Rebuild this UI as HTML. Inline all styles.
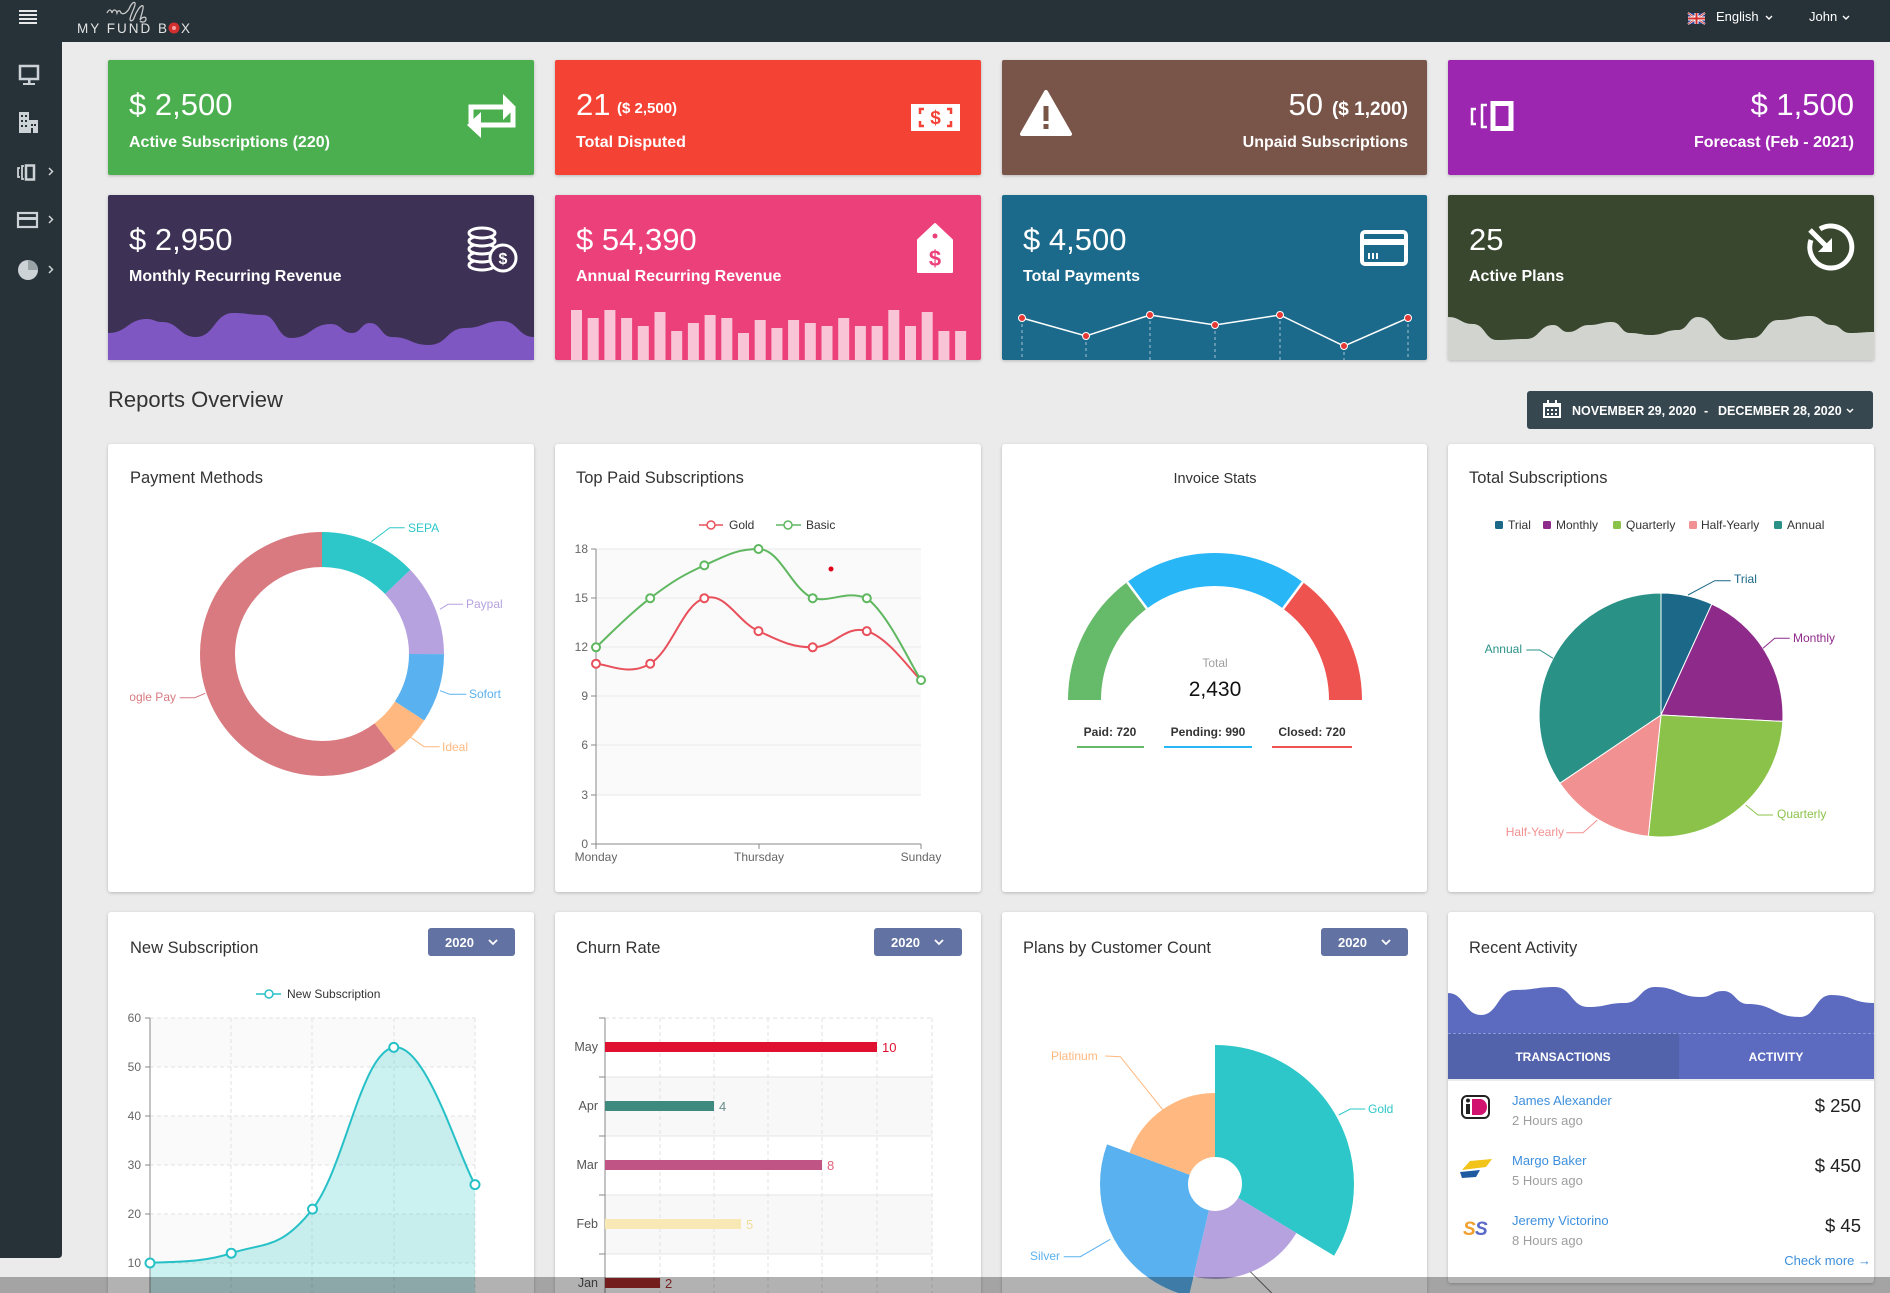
<!DOCTYPE html>
<html><head><meta charset="utf-8">
<style>
html,body{margin:0;padding:0;width:1890px;height:1293px;overflow:hidden;background:#ebebeb}
svg{display:block}
text{font-family:"Liberation Sans",Arial,sans-serif}
</style></head>
<body>
<svg width="1890" height="1293" viewBox="0 0 1890 1293" xmlns="http://www.w3.org/2000/svg">
<defs>
<filter id="sh" x="-3%" y="-3%" width="106%" height="110%"><feDropShadow dx="0" dy="1" stdDeviation="1.5" flood-color="#000" flood-opacity="0.22"/></filter>
<clipPath id="pmclip"><rect x="130" y="444" width="404" height="448"/></clipPath>
</defs>
<rect width="1890" height="1293" fill="#ebebeb"/>

<!-- TOP BAR -->
<rect x="0" y="0" width="1890" height="42" fill="#263238"/>
<g fill="#e8e8e8"><rect x="19" y="10" width="18" height="2"/><rect x="19" y="14" width="18" height="2"/><rect x="19" y="18" width="18" height="2"/><rect x="19" y="22" width="18" height="2"/></g>
<path d="M107,13 c2,-4 4,-4 5,0 c1,-4 4,-4 5,0 c1,-3 3,-3 4,0 c3,2 6,-1 8,-4 c2,-5 5,-8 6,-6 c1,3 -4,10 -5,16 c0,3 3,2 4,-1 c2,-6 7,-14 9,-12 c1,2 -2,10 -3,14 c2,-3 6,-4 6,-1 c0,3 -4,4 -6,2" fill="none" stroke="#c8c8c8" stroke-width="1.3"/>
<text x="77" y="33" font-size="13.5" fill="#e2e2e2" letter-spacing="2">MY FUND B</text>
<circle cx="174" cy="28" r="5.5" fill="#d32f2f"/><circle cx="174" cy="28" r="2" fill="#f5a0a0"/>
<text x="181" y="33" font-size="13.5" fill="#e2e2e2">X</text>
<!-- flag -->
<rect x="1688" y="13" width="17" height="11" fill="#2b3f8f"/>
<path d="M1688,13 L1705,24 M1705,13 L1688,24" stroke="#fff" stroke-width="2"/>
<path d="M1688,13 L1705,24 M1705,13 L1688,24" stroke="#d32f2f" stroke-width="0.8"/>
<rect x="1694.5" y="13" width="4" height="11" fill="#fff"/><rect x="1688" y="16.5" width="17" height="4" fill="#fff"/>
<rect x="1695.5" y="13" width="2" height="11" fill="#d32f2f"/><rect x="1688" y="17.5" width="17" height="2" fill="#d32f2f"/>
<text x="1716" y="21" font-size="13" fill="#fff">English</text>
<path d="M1766,16 l3,3 l3,-3" fill="none" stroke="#fff" stroke-width="1.4"/>
<text x="1809" y="21" font-size="13" fill="#fff">John</text>
<path d="M1843,16 l3,3 l3,-3" fill="none" stroke="#fff" stroke-width="1.4"/>

<!-- SIDEBAR -->
<path d="M0,42 H62 V1254 Q62,1258 58,1258 H0 Z" fill="#263238"/>
<g stroke="#cdd2d6" fill="none" stroke-width="2.5">
<rect x="20" y="66" width="18" height="13"/>
</g>
<g fill="#cdd2d6">
<rect x="28" y="79" width="2.5" height="4"/><rect x="23" y="83" width="12" height="2"/>
<rect x="19" y="112" width="10" height="21"/><rect x="29" y="120" width="9" height="13"/>
</g>
<g fill="#263238"><rect x="21" y="115" width="2" height="2"/><rect x="25" y="115" width="2" height="2"/><rect x="21" y="120" width="2" height="2"/><rect x="25" y="120" width="2" height="2"/><rect x="21" y="125" width="2" height="2"/><rect x="25" y="125" width="2" height="2"/><rect x="31" y="124" width="2" height="2"/><rect x="34" y="124" width="2" height="2"/><rect x="31" y="128" width="2" height="5"/></g>
<g stroke="#cdd2d6" fill="none" stroke-width="1.8">
<path d="M20,168 h-2 v9 h2"/><path d="M24,166 h-2 v13 h2"/>
<rect x="26" y="165.5" width="8" height="14" stroke-width="2.5"/>
<rect x="18" y="213" width="19" height="14" stroke-width="2.2"/>
<path d="M49,168 l3.5,3.5 l-3.5,3.5 M49,216 l3.5,3.5 l-3.5,3.5 M49,266 l3.5,3.5 l-3.5,3.5" stroke-width="1.5"/>
</g>
<rect x="18" y="217" width="19" height="3" fill="#cdd2d6"/>
<circle cx="28" cy="270" r="10" fill="#cdd2d6"/>
<path d="M28,270 L28,260 A10,10 0 0 1 38,270 Z" fill="#9aa3a8"/>

<!-- ROW 1 CARDS -->
<g filter="url(#sh)">
<rect x="108" y="60" width="426" height="115" rx="2" fill="#4caf50"/>
<rect x="555" y="60" width="426" height="115" rx="2" fill="#f44336"/>
<rect x="1002" y="60" width="425" height="115" rx="2" fill="#795548"/>
<rect x="1448" y="60" width="426" height="115" rx="2" fill="#9c27b0"/>
</g>
<g fill="#fff">
<text x="129" y="115" font-size="31">$ 2,500</text>
<text x="129" y="147" font-size="16" font-weight="bold">Active Subscriptions (220)</text>
<text x="576" y="115" font-size="31">21</text>
<text x="617" y="113" font-size="15" font-weight="bold">($ 2,500)</text>
<text x="576" y="147" font-size="16" font-weight="bold">Total Disputed</text>
<text x="1323" y="115" font-size="31" text-anchor="end">50</text>
<text x="1408" y="115" font-size="19" font-weight="bold" text-anchor="end">($ 1,200)</text>
<text x="1408" y="147" font-size="16" font-weight="bold" text-anchor="end">Unpaid Subscriptions</text>
<text x="1854" y="115" font-size="31" text-anchor="end">$ 1,500</text>
<text x="1854" y="147" font-size="16" font-weight="bold" text-anchor="end">Forecast (Feb - 2021)</text>
</g>
<!-- icons row1 -->
<g stroke="#fff" stroke-width="5" fill="none"><polyline points="471,123 471,107 505,107"/><polyline points="513,108 513,125 480,125"/></g>
<g fill="#fff"><polygon points="503,94 516,107 503,120"/><polygon points="481,112 467,125 481,138"/></g>
<rect x="911" y="104" width="49" height="27" fill="#fff"/>
<text x="935.5" y="124" font-size="19" font-weight="bold" fill="#f44336" text-anchor="middle">$</text>
<g stroke="#f44336" stroke-width="2.5" fill="none"><path d="M920,114 v-5 h4"/><path d="M951,114 v-5 h-4"/><path d="M920,121 v5 h4"/><path d="M951,121 v5 h-4"/></g>
<path d="M1046,92 L1070,134 L1022,134 Z" fill="#fff" stroke="#fff" stroke-width="4" stroke-linejoin="round"/>
<rect x="1043.5" y="106" width="5" height="15" fill="#795548"/><rect x="1043.5" y="124" width="5" height="5" fill="#795548"/>
<g stroke="#fff" fill="none"><path d="M1476,109 h-4 v15 h4" stroke-width="2.5"/><path d="M1487,105 h-5 v22 h5" stroke-width="2.5"/><rect x="1493" y="103.5" width="18" height="25" stroke-width="5"/></g>

<!-- ROW 2 CARDS -->
<g filter="url(#sh)">
<rect x="108" y="195" width="426" height="165" rx="2" fill="#3e3054"/>
<rect x="555" y="195" width="426" height="165" rx="2" fill="#ec407a"/>
<rect x="1002" y="195" width="425" height="165" rx="2" fill="#1d6a8b"/>
<rect x="1448" y="195" width="426" height="165" rx="2" fill="#37472f"/>
</g>
<path d="M108,333 C127.5,333 127.5,319 147,319 C154.5,319 154.5,322 162,322 C179,322 179,337 196,337 C214.5,337 214.5,313 233,313 C248,313 248,315 263,315 C277,315 277,338 291,338 C311,338 311,324 331,324 C341.5,324 341.5,333 352,333 C361,333 361,323 370,323 C381,323 381,337 392,337 C410.5,337 410.5,345 429,345 C447,345 447,328 465,328 C483.5,328 483.5,321 502,321 C518,321 518,337 534,337 L534,360 L108,360 Z" fill="#7e57c2"/>
<g fill="#f9c4d6">
<rect x="571" y="310" width="11" height="50"/><rect x="587.7" y="318" width="11" height="42"/><rect x="604.4" y="310" width="11" height="50"/><rect x="621.1" y="318" width="11" height="42"/><rect x="637.8" y="326" width="11" height="34"/><rect x="654.5" y="312" width="11" height="48"/><rect x="671.2" y="331" width="11" height="29"/><rect x="687.9" y="323" width="11" height="37"/><rect x="704.6" y="315" width="11" height="45"/><rect x="721.3" y="318" width="11" height="42"/><rect x="738" y="333" width="11" height="27"/><rect x="754.7" y="320" width="11" height="40"/><rect x="771.4" y="328" width="11" height="32"/><rect x="788.1" y="320" width="11" height="40"/><rect x="804.8" y="323" width="11" height="37"/><rect x="821.5" y="326" width="11" height="34"/><rect x="838.2" y="318" width="11" height="42"/><rect x="854.9" y="326" width="11" height="34"/><rect x="871.6" y="326" width="11" height="34"/><rect x="888.3" y="310" width="11" height="50"/><rect x="905" y="326" width="11" height="34"/><rect x="921.7" y="312" width="11" height="48"/><rect x="938.4" y="331" width="11" height="29"/><rect x="955.1" y="331" width="11" height="29"/>
</g>
<g stroke="#fff" stroke-opacity="0.6" stroke-width="1" stroke-dasharray="3,3">
<line x1="1022" y1="318" x2="1022" y2="360"/><line x1="1086" y1="336" x2="1086" y2="360"/><line x1="1150" y1="315" x2="1150" y2="360"/><line x1="1215" y1="325" x2="1215" y2="360"/><line x1="1280" y1="315" x2="1280" y2="360"/><line x1="1344" y1="346" x2="1344" y2="360"/><line x1="1408" y1="318" x2="1408" y2="360"/>
</g>
<polyline points="1022,318 1086,336 1150,315 1215,325 1280,315 1344,346 1408,318" fill="none" stroke="#fff" stroke-width="1.5"/>
<g fill="#e53935" stroke="#fff" stroke-width="1"><circle cx="1022" cy="318" r="3.5"/><circle cx="1086" cy="336" r="3.5"/><circle cx="1150" cy="315" r="3.5"/><circle cx="1215" cy="325" r="3.5"/><circle cx="1280" cy="315" r="3.5"/><circle cx="1344" cy="346" r="3.5"/><circle cx="1408" cy="318" r="3.5"/></g>
<path d="M1448,317 C1460.5,317 1460.5,324 1473,324 C1485,324 1485,340 1497,340 C1511.5,340 1511.5,339 1526,339 C1539.5,339 1539.5,325 1553,325 C1560.5,325 1560.5,332 1568,332 C1578.5,332 1578.5,325 1589,325 C1600.5,325 1600.5,322 1612,322 C1621,322 1621,333 1630,333 C1640.5,333 1640.5,335 1651,335 C1664.5,335 1664.5,330 1678,330 C1688,330 1688,317 1698,317 C1714.5,317 1714.5,340 1731,340 C1741.5,340 1741.5,338 1752,338 C1765,338 1765,320 1778,320 C1794.5,320 1794.5,316 1811,316 C1821.5,316 1821.5,325 1832,325 C1841,325 1841,333 1850,333 C1862,333 1862,332 1874,332 L1874,360 L1448,360 Z" fill="#d2d4d0"/>
<g fill="#fff">
<text x="129" y="250" font-size="31">$ 2,950</text>
<text x="129" y="281" font-size="16" font-weight="bold">Monthly Recurring Revenue</text>
<text x="576" y="250" font-size="31">$ 54,390</text>
<text x="576" y="281" font-size="16" font-weight="bold">Annual Recurring Revenue</text>
<text x="1023" y="250" font-size="31">$ 4,500</text>
<text x="1023" y="281" font-size="16" font-weight="bold">Total Payments</text>
<text x="1469" y="250" font-size="31">25</text>
<text x="1469" y="281" font-size="16" font-weight="bold">Active Plans</text>
</g>
<!-- icons row 2 -->
<g stroke="#fff" stroke-width="3" fill="#3e3054">
<ellipse cx="482" cy="265" rx="13" ry="5"/><ellipse cx="482" cy="257" rx="13" ry="5"/><ellipse cx="482" cy="249" rx="13" ry="5"/><ellipse cx="482" cy="241" rx="13" ry="5"/><ellipse cx="482" cy="233" rx="13" ry="5"/>
<circle cx="503" cy="258" r="13"/>
</g>
<text x="503" y="264" font-size="16" font-weight="bold" fill="#fff" text-anchor="middle">$</text>
<path d="M935,224 L952,240 L952,272 L918,272 L918,240 Z" fill="#fff" stroke="#fff" stroke-width="2" stroke-linejoin="round"/>
<circle cx="935" cy="236" r="2.5" fill="#ec407a"/>
<text x="935" y="266" font-size="22" font-weight="bold" fill="#ec407a" text-anchor="middle">$</text>
<rect x="1362" y="232" width="44" height="32" rx="3" fill="none" stroke="#fff" stroke-width="4"/>
<rect x="1362" y="239" width="44" height="6" fill="#fff"/>
<g fill="#fff"><rect x="1368" y="253" width="2" height="6"/><rect x="1372" y="253" width="2" height="6"/><rect x="1376" y="253" width="2" height="6"/></g>
<path d="M1820,229 A21,21 0 1 1 1811,240" fill="none" stroke="#fff" stroke-width="5"/>
<line x1="1810" y1="230" x2="1826" y2="246" stroke="#fff" stroke-width="5"/>
<polygon points="1832,252 1832,238 1818,252" fill="#fff"/>

<!-- REPORTS OVERVIEW -->
<text x="108" y="407" font-size="22" fill="#333">Reports Overview</text>
<rect x="1527" y="391" width="346" height="38" rx="3" fill="#37474f"/>
<rect x="1544" y="404" width="16" height="13" fill="none" stroke="#fff" stroke-width="2"/>
<rect x="1544" y="403" width="16" height="4" fill="#fff"/>
<rect x="1547" y="400" width="2" height="4" fill="#fff"/><rect x="1555" y="400" width="2" height="4" fill="#fff"/>
<g fill="#fff"><rect x="1547" y="409" width="2" height="2"/><rect x="1551" y="409" width="2" height="2"/><rect x="1555" y="409" width="2" height="2"/><rect x="1547" y="413" width="2" height="2"/><rect x="1551" y="413" width="2" height="2"/><rect x="1555" y="413" width="2" height="2"/></g>
<g fill="#fff" font-size="12.5" font-weight="bold">
<text x="1572" y="415">NOVEMBER 29, 2020</text>
<text x="1704" y="415">-</text>
<text x="1718" y="415">DECEMBER 28, 2020</text>
</g>
<path d="M1847,409 l3,3 l3,-3" fill="none" stroke="#fff" stroke-width="1.5"/>

<!-- ROW 3 PANELS -->
<g filter="url(#sh)" fill="#fff">
<rect x="108" y="444" width="426" height="448" rx="3"/>
<rect x="555" y="444" width="426" height="448" rx="3"/>
<rect x="1002" y="444" width="425" height="448" rx="3"/>
<rect x="1448" y="444" width="426" height="448" rx="3"/>
</g>
<g fill="#333" font-size="16.5">
<text x="130" y="483">Payment Methods</text>
<text x="576" y="483">Top Paid Subscriptions</text>
<text x="1215" y="483" font-size="14.5" text-anchor="middle">Invoice Stats</text>
<text x="1469" y="483">Total Subscriptions</text>
</g>

<!-- Payment methods donut -->
<g transform="rotate(-90 322 654)" fill="none" stroke-width="35">
<circle cx="322" cy="654" r="104.5" stroke="#2ec7c9" stroke-dasharray="84.63 1000" stroke-dashoffset="0"/>
<circle cx="322" cy="654" r="104.5" stroke="#b6a2de" stroke-dasharray="79.52 1000" stroke-dashoffset="-84.63"/>
<circle cx="322" cy="654" r="104.5" stroke="#5ab1ef" stroke-dasharray="60.19 1000" stroke-dashoffset="-164.15"/>
<circle cx="322" cy="654" r="104.5" stroke="#ffb980" stroke-dasharray="36.11 1000" stroke-dashoffset="-224.34"/>
<circle cx="322" cy="654" r="104.5" stroke="#d87a80" stroke-dasharray="396.14 1000" stroke-dashoffset="-260.45"/>
</g>
<g fill="none" stroke-width="1">
<polyline points="371.3,541.7 389.7,527.7 404.7,527.7" stroke="#2ec7c9"/>
<polyline points="440,609.3 448,604.3 463,604.3" stroke="#b6a2de"/>
<polyline points="440,690.7 449.7,694.3 466.3,694.3" stroke="#5ab1ef"/>
<polyline points="409.7,736.7 424,746.7 439.7,746.7" stroke="#ffb980"/>
<polyline points="179.7,697.7 194.7,697.7 205.3,693.3" stroke="#d87a80"/>
</g>
<g font-size="12">
<text x="408" y="532" fill="#2ec7c9">SEPA</text>
<text x="466" y="608" fill="#b6a2de">Paypal</text>
<text x="469" y="698" fill="#5ab1ef">Sofort</text>
<text x="442" y="751" fill="#ffb980">Ideal</text>
<g clip-path="url(#pmclip)"><text x="176" y="701" fill="#d87a80" text-anchor="end">Google Pay</text></g>
</g>

<!-- Top paid line chart -->
<rect x="596" y="549" width="325" height="246" fill="#fafafa"/>
<g stroke="#e9e9e9" stroke-width="1">
<line x1="596" y1="549" x2="921" y2="549"/><line x1="596" y1="598" x2="921" y2="598"/><line x1="596" y1="647" x2="921" y2="647"/><line x1="596" y1="696" x2="921" y2="696"/><line x1="596" y1="745" x2="921" y2="745"/><line x1="596" y1="795" x2="921" y2="795"/>
</g>
<g stroke="#888" stroke-width="1">
<line x1="596" y1="549" x2="596" y2="844"/><line x1="596" y1="844" x2="921" y2="844"/>
<line x1="591" y1="549" x2="596" y2="549"/><line x1="591" y1="598" x2="596" y2="598"/><line x1="591" y1="647" x2="596" y2="647"/><line x1="591" y1="696" x2="596" y2="696"/><line x1="591" y1="745" x2="596" y2="745"/><line x1="591" y1="795" x2="596" y2="795"/><line x1="591" y1="844" x2="596" y2="844"/>
<line x1="596" y1="844" x2="596" y2="849"/><line x1="759" y1="844" x2="759" y2="849"/><line x1="921" y1="844" x2="921" y2="849"/>
</g>
<g font-size="12" fill="#666" text-anchor="end">
<text x="588" y="553">18</text><text x="588" y="602">15</text><text x="588" y="651">12</text><text x="588" y="700">9</text><text x="588" y="749">6</text><text x="588" y="799">3</text><text x="588" y="848">0</text>
</g>
<g font-size="12" fill="#666" text-anchor="middle">
<text x="596" y="861">Monday</text><text x="759" y="861">Thursday</text><text x="921" y="861">Sunday</text>
</g>
<path d="M596,663.7 C606.8,663.7 628.5,676.8 650.2,663.7 C671.9,650.6 682.6,604.7 704.3,598.2 C726,591.7 736.8,621.3 758.5,631.1 C780.2,640.9 791,647.3 812.7,647.3 C834.4,647.3 845.1,624.5 866.8,631.1 C888.5,637.7 910.2,670.3 921,680.1" fill="none" stroke="#e8505b" stroke-width="2"/>
<path d="M596,647.3 C606.8,637.5 628.5,614.6 650.2,598.2 C671.9,581.8 682.6,575.2 704.3,565.4 C726,555.6 736.8,549 758.5,549 C780.2,549 791,588.4 812.7,598.2 C830,603 845,590 866.8,598.2 C888.5,614.6 910.2,663.7 921,680.1" fill="none" stroke="#5fb760" stroke-width="2"/>
<g fill="#fff" stroke="#e8505b" stroke-width="2">
<circle cx="596" cy="663.7" r="4"/><circle cx="650.2" cy="663.7" r="4"/><circle cx="704.3" cy="598.2" r="4"/><circle cx="758.5" cy="631.1" r="4"/><circle cx="812.7" cy="647.3" r="4"/><circle cx="866.8" cy="631.1" r="4"/>
</g>
<g fill="#fff" stroke="#5fb760" stroke-width="2">
<circle cx="596" cy="647.3" r="4"/><circle cx="650.2" cy="598.2" r="4"/><circle cx="704.3" cy="565.4" r="4"/><circle cx="758.5" cy="549" r="4"/><circle cx="812.7" cy="598.2" r="4"/><circle cx="866.8" cy="598.2" r="4"/><circle cx="921" cy="680.1" r="4"/>
</g>
<circle cx="831" cy="569" r="2.5" fill="#e0001b"/>
<line x1="699" y1="525" x2="723" y2="525" stroke="#e8505b" stroke-width="1.5"/><circle cx="711" cy="525" r="4" fill="#fff" stroke="#e8505b" stroke-width="1.5"/>
<text x="729" y="529" font-size="12" fill="#333">Gold</text>
<line x1="776" y1="525" x2="801" y2="525" stroke="#5fb760" stroke-width="1.5"/><circle cx="788" cy="525" r="4" fill="#fff" stroke="#5fb760" stroke-width="1.5"/>
<text x="806" y="529" font-size="12" fill="#333">Basic</text>

<!-- Invoice gauge -->
<g fill="none" stroke-width="33">
<path d="M1084.5,700 A130.5,130.5 0 0 1 1345.5,700" stroke="#66bb6a" stroke-dasharray="121.47 1000" stroke-dashoffset="0"/>
<path d="M1084.5,700 A130.5,130.5 0 0 1 1345.5,700" stroke="#29b6f6" stroke-dasharray="167.03 1000" stroke-dashoffset="-121.47"/>
<path d="M1084.5,700 A130.5,130.5 0 0 1 1345.5,700" stroke="#ef5350" stroke-dasharray="121.5 1000" stroke-dashoffset="-288.5"/>
</g>
<g stroke="#fff" stroke-width="2.5"><line x1="1146.9" y1="608.6" x2="1127.2" y2="582.1"/><line x1="1283.1" y1="608.6" x2="1302.8" y2="582.1"/></g>
<text x="1215" y="667" font-size="12" fill="#9e9e9e" text-anchor="middle">Total</text>
<text x="1215" y="696" font-size="21" fill="#111" text-anchor="middle">2,430</text>
<g font-size="12" font-weight="bold" fill="#333" text-anchor="middle">
<text x="1110" y="736">Paid: 720</text><text x="1208" y="736">Pending: 990</text><text x="1312" y="736">Closed: 720</text>
</g>
<rect x="1077" y="746" width="67" height="2" fill="#66bb6a"/>
<rect x="1164" y="746" width="88" height="2" fill="#29b6f6"/>
<rect x="1272" y="746" width="80" height="2" fill="#ef5350"/>

<!-- Total subscriptions pie -->
<g stroke="#fff" stroke-width="1">
<path d="M1661,715 L1661,593 A122,122 0 0 1 1711.8,604.1 Z" fill="#1b6888"/>
<path d="M1661,715 L1711.8,604.1 A122,122 0 0 1 1782.8,721.4 Z" fill="#8e2a8a"/>
<path d="M1661,715 L1782.8,721.4 A122,122 0 0 1 1648.3,836.3 Z" fill="#8bc34a"/>
<path d="M1661,715 L1648.3,836.3 A122,122 0 0 1 1559.9,783.2 Z" fill="#f29191"/>
<path d="M1661,715 L1559.9,783.2 A122,122 0 0 1 1661,593 Z" fill="#2a9187"/>
</g>
<g fill="none" stroke-width="1">
<polyline points="1688,595 1714.7,580.7 1730.7,580.7" stroke="#1b6888"/>
<polyline points="1763,648.3 1774.7,638.3 1789.7,638.3" stroke="#8e2a8a"/>
<polyline points="1745.7,805 1758,815 1773,815" stroke="#8bc34a"/>
<polyline points="1566.3,832.7 1583,832.7 1597.3,820" stroke="#f29191"/>
<polyline points="1526.3,650 1539.7,650 1553,658.3" stroke="#2a9187"/>
</g>
<g font-size="12">
<text x="1734" y="583" fill="#1b6888">Trial</text>
<text x="1793" y="642" fill="#8e2a8a">Monthly</text>
<text x="1777" y="818" fill="#8bc34a">Quarterly</text>
<text x="1564" y="836" fill="#f29191" text-anchor="end">Half-Yearly</text>
<text x="1522" y="653" fill="#2a9187" text-anchor="end">Annual</text>
</g>
<rect x="1495" y="521" width="8" height="8" rx="1.5" fill="#1b6888"/>
<rect x="1543" y="521" width="8" height="8" rx="1.5" fill="#8e2a8a"/>
<rect x="1613" y="521" width="8" height="8" rx="1.5" fill="#8bc34a"/>
<rect x="1689" y="521" width="8" height="8" rx="1.5" fill="#f29191"/>
<rect x="1774" y="521" width="8" height="8" rx="1.5" fill="#2a9187"/>
<g font-size="12" fill="#333">
<text x="1508" y="529">Trial</text><text x="1556" y="529">Monthly</text><text x="1626" y="529">Quarterly</text><text x="1701" y="529">Half-Yearly</text><text x="1787" y="529">Annual</text>
</g>

<!-- ROW 4 PANELS -->
<g filter="url(#sh)" fill="#fff">
<rect x="108" y="912" width="426" height="420" rx="3"/>
<rect x="555" y="912" width="426" height="420" rx="3"/>
<rect x="1002" y="912" width="425" height="420" rx="3"/>
<rect x="1448" y="912" width="426" height="371" rx="3"/>
</g>
<g fill="#333" font-size="16.5">
<text x="130" y="953">New Subscription</text>
<text x="576" y="953">Churn Rate</text>
<text x="1023" y="953">Plans by Customer Count</text>
<text x="1469" y="953">Recent Activity</text>
</g>
<g fill="#6272a2">
<rect x="428" y="928" width="87" height="28" rx="3"/>
<rect x="874" y="928" width="88" height="28" rx="3"/>
<rect x="1321" y="928" width="87" height="28" rx="3"/>
</g>
<g fill="#fff" font-size="13" font-weight="bold">
<text x="445" y="947">2020</text><text x="891" y="947">2020</text><text x="1338" y="947">2020</text>
</g>
<g fill="none" stroke="#fff" stroke-width="1.8">
<path d="M489,940 l4,4 l4,-4"/><path d="M935,940 l4,4 l4,-4"/><path d="M1382,940 l4,4 l4,-4"/>
</g>

<!-- New subscription chart -->
<rect x="150" y="1018" width="325" height="49" fill="#fafafa"/>
<rect x="150" y="1116" width="325" height="49" fill="#fafafa"/>
<rect x="150" y="1214" width="325" height="49" fill="#fafafa"/>
<g stroke="#e2e2e2" stroke-width="1" stroke-dasharray="4,3">
<line x1="150" y1="1018" x2="475" y2="1018"/><line x1="150" y1="1067" x2="475" y2="1067"/><line x1="150" y1="1116" x2="475" y2="1116"/><line x1="150" y1="1165" x2="475" y2="1165"/><line x1="150" y1="1214" x2="475" y2="1214"/><line x1="150" y1="1263" x2="475" y2="1263"/>
<line x1="231" y1="1018" x2="231" y2="1293"/><line x1="312" y1="1018" x2="312" y2="1293"/><line x1="394" y1="1018" x2="394" y2="1293"/><line x1="475" y1="1018" x2="475" y2="1293"/>
</g>
<path d="M150,1263 C166.25,1261 198.75,1264 231.25,1253.2 C263.75,1242.4 280,1250.3 312.5,1209.1 C344.75,1167.9 361.25,1052.3 393.75,1047.4 C426.25,1042.5 458.75,1157.2 475,1184.6 L475,1312 L150,1312 Z" fill="#2ec7c9" fill-opacity="0.25"/>
<path d="M150,1263 C166.25,1261 198.75,1264 231.25,1253.2 C263.75,1242.4 280,1250.3 312.5,1209.1 C344.75,1167.9 361.25,1052.3 393.75,1047.4 C426.25,1042.5 458.75,1157.2 475,1184.6" fill="none" stroke="#26c0c7" stroke-width="2"/>
<g stroke="#888" stroke-width="1">
<line x1="150" y1="1018" x2="150" y2="1293"/>
<line x1="145" y1="1018" x2="150" y2="1018"/><line x1="145" y1="1067" x2="150" y2="1067"/><line x1="145" y1="1116" x2="150" y2="1116"/><line x1="145" y1="1165" x2="150" y2="1165"/><line x1="145" y1="1214" x2="150" y2="1214"/><line x1="145" y1="1263" x2="150" y2="1263"/>
</g>
<g fill="#fff" stroke="#26c0c7" stroke-width="2">
<circle cx="150" cy="1263" r="4.5"/><circle cx="231.25" cy="1253.2" r="4.5"/><circle cx="312.5" cy="1209.1" r="4.5"/><circle cx="393.75" cy="1047.4" r="4.5"/><circle cx="475" cy="1184.6" r="4.5"/>
</g>
<g font-size="12" fill="#666" text-anchor="end">
<text x="141" y="1022">60</text><text x="141" y="1071">50</text><text x="141" y="1120">40</text><text x="141" y="1169">30</text><text x="141" y="1218">20</text><text x="141" y="1267">10</text>
</g>
<line x1="256" y1="994" x2="281" y2="994" stroke="#26c0c7" stroke-width="1.5"/><circle cx="269" cy="994" r="4" fill="#fff" stroke="#26c0c7" stroke-width="1.5"/>
<text x="287" y="998" font-size="12" fill="#333">New Subscription</text>

<!-- Churn chart -->
<rect x="605" y="1077" width="327" height="59" fill="#f8f8f8"/>
<rect x="605" y="1195" width="327" height="59" fill="#f8f8f8"/>
<g stroke="#e6e6e6" stroke-width="1">
<line x1="605" y1="1077" x2="932" y2="1077"/><line x1="605" y1="1136" x2="932" y2="1136"/><line x1="605" y1="1195" x2="932" y2="1195"/><line x1="605" y1="1254" x2="932" y2="1254"/>
</g>
<g stroke="#e2e2e2" stroke-width="1" stroke-dasharray="4,3">
<line x1="605" y1="1018" x2="932" y2="1018"/>
<line x1="660" y1="1018" x2="660" y2="1293"/><line x1="714" y1="1018" x2="714" y2="1293"/><line x1="768" y1="1018" x2="768" y2="1293"/><line x1="822" y1="1018" x2="822" y2="1293"/><line x1="877" y1="1018" x2="877" y2="1293"/><line x1="932" y1="1018" x2="932" y2="1293"/>
</g>
<g stroke="#888" stroke-width="1">
<line x1="605" y1="1018" x2="605" y2="1293"/>
<line x1="599" y1="1018" x2="605" y2="1018"/><line x1="599" y1="1077" x2="605" y2="1077"/><line x1="599" y1="1136" x2="605" y2="1136"/><line x1="599" y1="1195" x2="605" y2="1195"/><line x1="599" y1="1254" x2="605" y2="1254"/>
</g>
<rect x="605" y="1042" width="272" height="10" fill="#e01030"/>
<rect x="605" y="1101" width="109" height="10" fill="#3f8a7f"/>
<rect x="605" y="1160" width="217" height="10" fill="#c05585"/>
<rect x="605" y="1219" width="136" height="10" fill="#f7e8b6"/>
<rect x="605" y="1278" width="55" height="10" fill="#a52a2a"/>
<g font-size="13">
<text x="882" y="1052" fill="#e01030">10</text>
<text x="719" y="1111" fill="#6a8f8a">4</text>
<text x="827" y="1170" fill="#e0607a">8</text>
<text x="746" y="1229" fill="#f3dd9c">5</text>
<text x="665" y="1288" fill="#a83232">2</text>
</g>
<g font-size="12.5" fill="#555" text-anchor="end">
<text x="598" y="1051">May</text><text x="598" y="1110">Apr</text><text x="598" y="1169">Mar</text><text x="598" y="1228">Feb</text><text x="598" y="1287">Jan</text>
</g>

<!-- Plans rose chart -->
<g transform="rotate(-90 1215 1184)" fill="none">
<circle cx="1215" cy="1184" r="83" stroke="#2ec7c9" stroke-width="112" stroke-dasharray="175.3 2000" stroke-dashoffset="0"/>
<circle cx="1215" cy="1184" r="61" stroke="#b6a2de" stroke-width="68" stroke-dasharray="76.7 2000" stroke-dashoffset="-128.8"/>
<circle cx="1215" cy="1184" r="71" stroke="#5ab1ef" stroke-width="88" stroke-dasharray="120.2 2000" stroke-dashoffset="-239.2"/>
<circle cx="1215" cy="1184" r="59" stroke="#ffb980" stroke-width="64" stroke-dasharray="72.1 2000" stroke-dashoffset="-298.6"/>
</g>
<g fill="none" stroke-width="1">
<polyline points="1105.3,1056 1120.3,1056.7 1163,1110" stroke="#ffb980"/>
<polyline points="1338.7,1115 1350.3,1109 1365.3,1109" stroke="#2ec7c9"/>
<polyline points="1063.7,1256.7 1080.3,1256.7 1110.3,1239.3" stroke="#5ab1ef"/>
<polyline points="1250.3,1271.7 1272,1293.3" stroke="#666"/>
</g>
<g font-size="12">
<text x="1051" y="1060" fill="#ffb980">Platinum</text>
<text x="1368" y="1113" fill="#2ec7c9">Gold</text>
<text x="1030" y="1260" fill="#5ab1ef">Silver</text>
</g>

<!-- Recent activity -->
<path d="M1448,993 C1464.5,993 1464.5,1015 1481,1015 C1498,1015 1498,990 1515,990 C1535,990 1535,987 1555,987 C1571.5,987 1571.5,1007 1588,1007 C1606.5,1007 1606.5,1003 1625,1003 C1640,1003 1640,987 1655,987 C1678,987 1678,997 1701,997 C1712,997 1712,991 1723,991 C1735.5,991 1735.5,1004 1748,1004 C1774,1004 1774,1017 1800,1017 C1815.5,1017 1815.5,995 1831,995 C1852.5,995 1852.5,1003 1874,1003 L1874,1033 L1448,1033 Z" fill="#5c6bc0"/>
<rect x="1448" y="1033" width="231" height="46" fill="#5262ab"/>
<rect x="1679" y="1033" width="195" height="46" fill="#5c6bc0"/>
<line x1="1448" y1="1033.5" x2="1874" y2="1033.5" stroke="#8c97d6" stroke-width="1" stroke-dasharray="3,2"/>
<rect x="1448" y="1079" width="426" height="2" fill="#000" fill-opacity="0.08"/>
<g fill="#fff" font-size="12" font-weight="bold" text-anchor="middle">
<text x="1563" y="1061">TRANSACTIONS</text><text x="1776" y="1061">ACTIVITY</text>
</g>
<!-- item icons -->
<rect x="1462" y="1096" width="27" height="22" rx="5" fill="#fff" stroke="#222" stroke-width="2"/>
<rect x="1466" y="1104" width="4" height="10" fill="#222"/><circle cx="1468" cy="1100.5" r="2" fill="#222"/>
<path d="M1472,1099 h8 a7,8 0 0 1 0,16 h-8 Z" fill="#d1136f"/>
<path d="M1462,1170 L1470,1161 L1492,1159 L1486,1167 Z" fill="#f2c318"/>
<path d="M1460,1172 L1480,1170 L1476,1177 L1462,1178 Z" fill="#1d5aa0"/>
<text x="1463" y="1235" font-size="19" font-weight="bold" font-style="italic" fill="#f0a030">S</text>
<text x="1475" y="1235" font-size="19" font-weight="bold" font-style="italic" fill="#5a6ac8">S</text>
<g font-size="13">
<text x="1512" y="1105" fill="#3d8fdc">James Alexander</text>
<text x="1512" y="1125" fill="#9e9e9e">2 Hours ago</text>
<text x="1512" y="1165" fill="#3d8fdc">Margo Baker</text>
<text x="1512" y="1185" fill="#9e9e9e">5 Hours ago</text>
<text x="1512" y="1225" fill="#3d8fdc">Jeremy Victorino</text>
<text x="1512" y="1245" fill="#9e9e9e">8 Hours ago</text>
</g>
<g font-size="18.5" fill="#222" text-anchor="end">
<text x="1861" y="1112">$ 250</text><text x="1861" y="1172">$ 450</text><text x="1861" y="1232">$ 45</text>
</g>
<text x="1871" y="1265" font-size="13" fill="#3d8fdc" text-anchor="end">Check more →</text>

<!-- bottom overlay bar -->
<rect x="0" y="1277" width="1890" height="16" fill="#000" fill-opacity="0.3"/>
</svg>
</body></html>
